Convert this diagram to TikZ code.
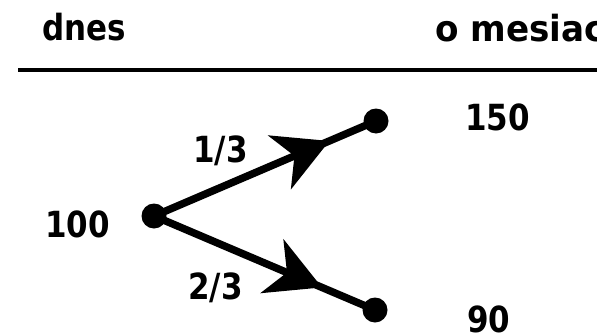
\documentclass[tikz,border=0pt]{standalone}
\usepackage{fontspec}
\newfontfamily\lab[FakeStretch=0.86]{DejaVu Sans Bold}
\newfontfamily\labwide[FakeStretch=0.95]{DejaVu Sans Bold}
\usetikzlibrary{arrows.meta,decorations.markings}
\tikzset{
  lbl/.style={anchor=base west,inner sep=0pt,font=\lab\fontsize{36}{40}\selectfont},
  dot/.style={circle,fill=black,minimum size=25pt,inner sep=0pt},
  branch/.style={line width=7.5pt,postaction={decorate},
    decoration={markings,mark=at position #1 with {\arrow{Stealth[length=54pt,width=58pt,inset=16pt]}}}}
}
\begin{document}
\begin{tikzpicture}[x=1pt,y=-1pt]
\useasboundingbox (0,0) rectangle (597,332);
\node[lbl] (dnes) at (42,40) {dnes};
\node[lbl,font=\labwide\fontsize{36}{40}\selectfont] (mes) at (435,41) {o mesiac};
\coordinate (r1) at (18,70);
\coordinate (r2) at (600,70);
\draw[line width=4pt] (r1) -- (r2);
\node[dot] (a) at (154,216) {};
\node[dot] (b) at (376,121) {};
\node[dot] (c) at (375,310) {};
\draw[branch=0.79] (a.center) -- (b.center);
\draw[branch=0.76] (a.center) -- (c.center);
\node[lbl] (v100) at (45,237) {100};
\node[lbl] (v150) at (465,130) {150};
\node[lbl] (v90) at (467,332) {90};
\node[lbl] (p1) at (193,162) {1/3};
\node[lbl] (p2) at (188,299) {2/3};
\end{tikzpicture}
\end{document}
